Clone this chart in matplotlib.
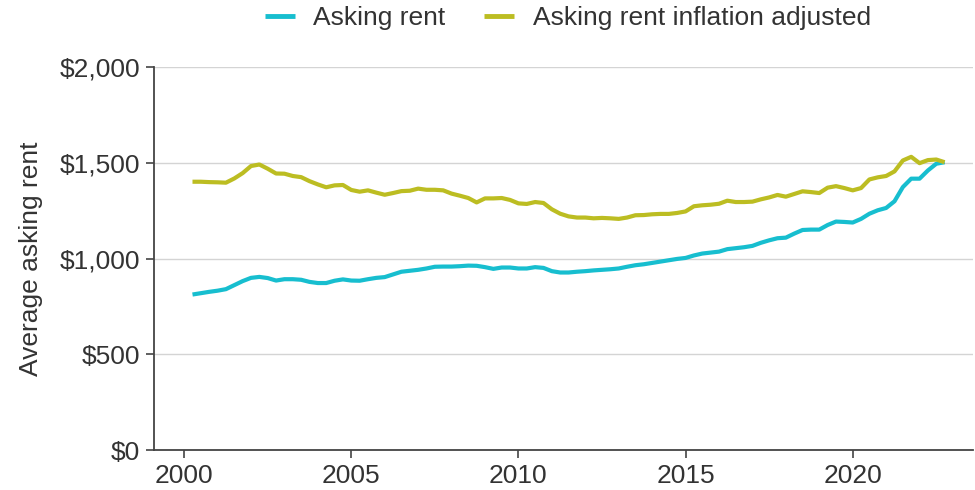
#!/usr/bin/env python3
"""
Average asking rent, nominal vs inflation adjusted (quarterly).
"""

import matplotlib
matplotlib.use('Agg')
import matplotlib.pyplot as plt
from matplotlib.ticker import FuncFormatter
import pandas as pd

# quarters 2000Q2 .. 2022Q4
quarters = pd.period_range('2000Q2', '2022Q4', freq='Q')

asking_rent = [
    812, 819, 826, 832, 840, 861, 882, 899, 904, 898,
    885, 892, 892, 889, 878, 872, 872, 884, 891,
    885, 884, 892, 899, 903, 917, 931, 936, 941, 948,
    957, 958, 958, 960, 963, 962, 955, 946, 953, 953,
    948, 948, 955, 951, 934, 927, 927, 931, 934, 938,
    941, 944, 948, 957, 965, 970, 977, 984, 991, 998,
    1003, 1016, 1026, 1031, 1036, 1049, 1054, 1059, 1066, 1082,
    1095, 1106, 1109, 1130, 1149, 1151, 1151, 1175, 1193, 1191,
    1188, 1207, 1234, 1252, 1264, 1299, 1373, 1417, 1417, 1460,
    1495, 1503,
]

asking_rent_adj = [
    1401, 1401, 1399, 1398, 1396, 1418, 1446, 1483, 1491, 1469,
    1444, 1443, 1431, 1425, 1404, 1387, 1372, 1382, 1384,
    1358, 1349, 1356, 1344, 1333, 1342, 1352, 1354, 1365, 1359,
    1359, 1356, 1339, 1328, 1316, 1293, 1314, 1314, 1316, 1306,
    1288, 1285, 1295, 1290, 1257, 1234, 1220, 1214, 1214, 1210,
    1212, 1210, 1207, 1214, 1226, 1227, 1231, 1233, 1233, 1238,
    1246, 1273, 1278, 1281, 1286, 1302, 1295, 1295, 1297, 1309,
    1319, 1332, 1323, 1337, 1351, 1347, 1342, 1370, 1378, 1368,
    1356, 1368, 1413, 1424, 1431, 1455, 1512, 1531, 1498, 1514,
    1517, 1503,
]

y_ticks = [0, 500, 1000, 1500, 2000]
x_ticks = [2000, 2005, 2010, 2015, 2020]

TEXT = '#333333'
plt.rcParams['font.family'] = ['Liberation Sans', 'DejaVu Sans']
plt.rcParams['font.size'] = 19


def main():
    x = [q.year + (q.quarter - 1) / 4 for q in quarters]

    fig = plt.figure(figsize=(9.75, 4.9), dpi=100)
    ax = fig.add_axes([0.158, 0.0816, 0.840, 0.7816])

    ax.plot(x, asking_rent, color='#17becf', linewidth=3,
            label='Asking rent', solid_capstyle='butt')
    ax.plot(x, asking_rent_adj, color='#bcbd22', linewidth=3,
            label='Asking rent inflation adjusted', solid_capstyle='butt')

    ax.set_xlim(1999.1, 2023.6)
    ax.set_ylim(0, 2000)
    ax.set_xticks(x_ticks)
    ax.set_yticks(y_ticks)
    ax.yaxis.set_major_formatter(FuncFormatter(lambda v, p: f'${v:,.0f}'))

    ax.grid(axis='y', color='#d4d4d4', linewidth=1)
    ax.set_axisbelow(True)
    for s in ['top', 'right']:
        ax.spines[s].set_visible(False)
    for s in ['left', 'bottom']:
        ax.spines[s].set_color('#444444')
        ax.spines[s].set_linewidth(1.3)

    ax.tick_params(axis='both', colors='#444444', labelcolor=TEXT,
                   length=6, width=1.2, labelsize=19, pad=4)
    ax.set_ylabel('Average asking rent', color=TEXT, fontsize=19, labelpad=12)

    leg = ax.legend(loc='center', bbox_to_anchor=(0.505, 1.128), ncol=2,
                    frameon=False, handlelength=1.15, handletextpad=0.7,
                    columnspacing=1.45, fontsize=19)
    for t in leg.get_texts():
        t.set_color(TEXT)
    for h in leg.get_lines():
        h.set_linewidth(3.5)

    fig.savefig('out.png', dpi=100)
    plt.close(fig)


if __name__ == "__main__":
    main()
